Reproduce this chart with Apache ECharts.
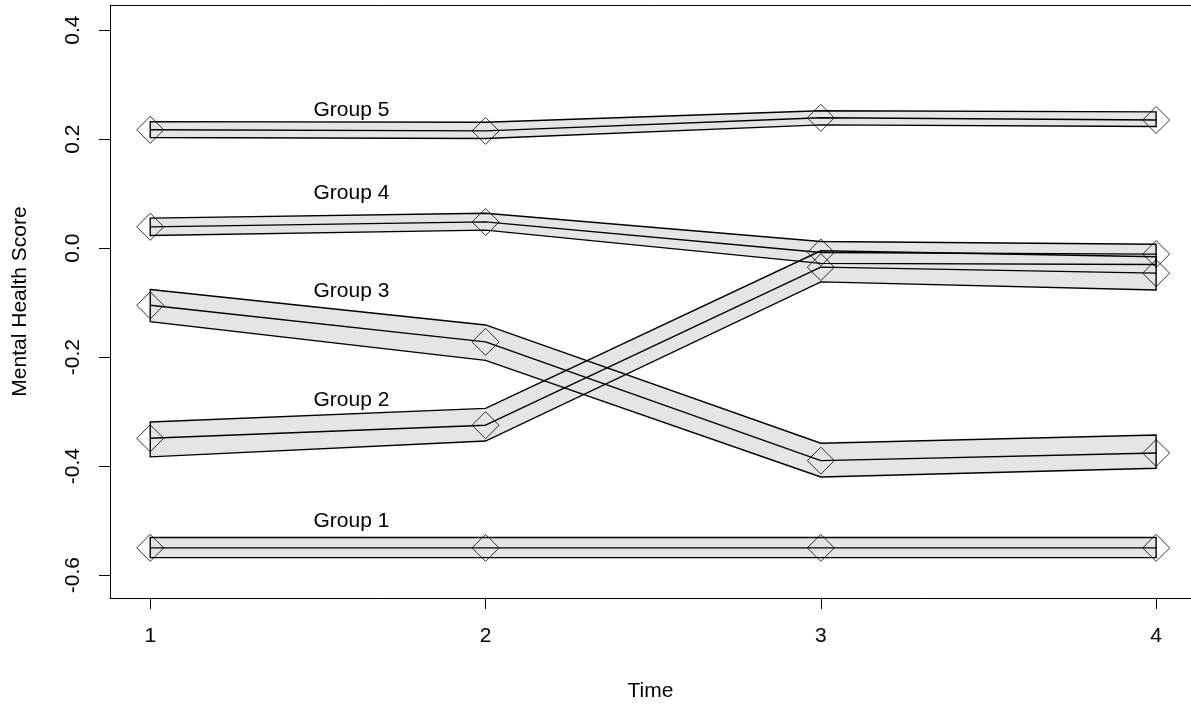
<!DOCTYPE html>
<html lang="en">
<head>
    <meta charset="UTF-8">
    <title>Mental Health Score by Group</title>
    <script type="text/javascript" src="https://cdn.jsdelivr.net/npm/echarts@6/dist/echarts.min.js"></script>
</head>
<body style="margin:0">
<div id="main" style="height: 704px; width: 1191px"></div>
<script>
    // time points and tick labels
    let times = [1, 2, 3, 4];
    let yTicks = [-0.6, -0.4, -0.2, 0.0, 0.2, 0.4];
    let groupNames = ['Group 1', 'Group 2', 'Group 3', 'Group 4', 'Group 5'];

    // mean and band (upper / lower) per group
    let g1Mean = [-0.550, -0.550, -0.550, -0.550];
    let g1Upper = [-0.531, -0.531, -0.531, -0.531];
    let g1Lower = [-0.568, -0.568, -0.568, -0.568];

    let g2Mean = [-0.349, -0.325, -0.035, -0.046];
    let g2Upper = [-0.319, -0.294, -0.005, -0.016];
    let g2Lower = [-0.383, -0.354, -0.062, -0.077];

    let g3Mean = [-0.105, -0.172, -0.390, -0.376];
    let g3Upper = [-0.076, -0.141, -0.358, -0.343];
    let g3Lower = [-0.135, -0.206, -0.420, -0.404];

    let g4Mean = [0.039, 0.048, -0.008, -0.011];
    let g4Upper = [0.055, 0.064, 0.012, 0.007];
    let g4Lower = [0.023, 0.033, -0.028, -0.030];

    let g5Mean = [0.217, 0.215, 0.239, 0.235];
    let g5Upper = [0.232, 0.231, 0.252, 0.250];
    let g5Lower = [0.203, 0.201, 0.226, 0.223];

    // where the "Group n" labels sit
    let labelX = [1.6, 1.6, 1.6, 1.6, 1.6];
    let labelY = [-0.501, -0.279, -0.079, 0.101, 0.253];

    let groups = [
        {mean: g1Mean, upper: g1Upper, lower: g1Lower},
        {mean: g2Mean, upper: g2Upper, lower: g2Lower},
        {mean: g3Mean, upper: g3Upper, lower: g3Lower},
        {mean: g4Mean, upper: g4Upper, lower: g4Lower},
        {mean: g5Mean, upper: g5Upper, lower: g5Lower}
    ];

    let font = "'Liberation Sans', Arial, sans-serif";
    let fs = 21;

    function bandPoints(g, api) {
        let pts = [];
        for (let i = 0; i < times.length; i++) pts.push(api.coord([times[i], g.upper[i]]));
        for (let i = times.length - 1; i >= 0; i--) pts.push(api.coord([times[i], g.lower[i]]));
        return pts;
    }

    let bandData = groups.map(function (g) { return [times[0], g.mean[0]]; });

    let series = [];
    // band fills first
    series.push({
        type: 'custom',
        data: bandData,
        z: 1,
        renderItem: function (params, api) {
            return {
                type: 'polygon',
                shape: {points: bandPoints(groups[params.dataIndex], api)},
                style: {fill: '#e5e5e5', stroke: 'none'}
            };
        }
    });
    // band borders
    series.push({
        type: 'custom',
        data: bandData,
        z: 2,
        renderItem: function (params, api) {
            return {
                type: 'polygon',
                shape: {points: bandPoints(groups[params.dataIndex], api)},
                style: {fill: 'none', stroke: '#000', lineWidth: 1.4}
            };
        }
    });
    // mean lines and diamonds
    groups.forEach(function (g, k) {
        let pts = times.map(function (t, i) { return [t, g.mean[i]]; });
        series.push({
            type: 'line',
            name: groupNames[k],
            data: pts,
            showSymbol: false,
            z: 3,
            lineStyle: {color: '#000', width: 1.4}
        });
        series.push({
            type: 'scatter',
            data: pts,
            symbol: 'diamond',
            symbolSize: 27,
            z: 4,
            itemStyle: {color: 'rgba(0,0,0,0)', borderColor: '#000', borderWidth: 1}
        });
    });
    // group labels
    series.push({
        type: 'custom',
        data: labelX.map(function (x, i) { return [x, labelY[i]]; }),
        z: 5,
        renderItem: function (params, api) {
            let p = api.coord([api.value(0), api.value(1)]);
            return {
                type: 'text',
                style: {
                    text: groupNames[params.dataIndex],
                    x: p[0], y: p[1],
                    align: 'center', verticalAlign: 'middle',
                    fill: '#000', font: fs + 'px ' + font
                }
            };
        }
    });

    let myChart = echarts.init(document.getElementById('main'));
    let option = {
        animation: false,
        backgroundColor: '#fff',
        grid: {left: 110, top: 5, right: 0, bottom: 106, outerBoundsMode: 'none', containLabel: false},
        xAxis: [{
            type: 'value',
            min: 0.88, max: 4.104,
            name: 'Time', nameLocation: 'middle', nameGap: 83,
            nameTextStyle: {fontSize: fs, fontFamily: font, color: '#000'},
            axisLine: {show: true, onZero: false, lineStyle: {color: '#000', width: 1}},
            splitLine: {show: false},
            axisTick: {show: true, length: 11, customValues: times, lineStyle: {color: '#000'}},
            axisLabel: {customValues: times, margin: 28, fontSize: fs, fontFamily: font, color: '#000'}
        }, {
            // top edge of the box
            type: 'value',
            position: 'top',
            min: 0.88, max: 4.104,
            axisLine: {show: true, onZero: false, lineStyle: {color: '#000', width: 1}},
            axisTick: {show: false},
            axisLabel: {show: false},
            splitLine: {show: false}
        }],
        yAxis: {
            type: 'value',
            min: -0.642, max: 0.446,
            name: 'Mental Health Score', nameLocation: 'middle', nameGap: 79,
            nameTextStyle: {fontSize: fs, fontFamily: font, color: '#000'},
            axisLine: {show: true, onZero: false, lineStyle: {color: '#000', width: 1}},
            splitLine: {show: false},
            axisTick: {show: true, length: 11, customValues: yTicks, lineStyle: {color: '#000'}},
            axisLabel: {
                customValues: yTicks, rotate: 90, margin: 26,
                fontSize: fs, fontFamily: font, color: '#000',
                formatter: function (v) { return v.toFixed(1); }
            }
        },
        series: series
    };
    myChart.setOption(option);
</script>
</body>
</html>
